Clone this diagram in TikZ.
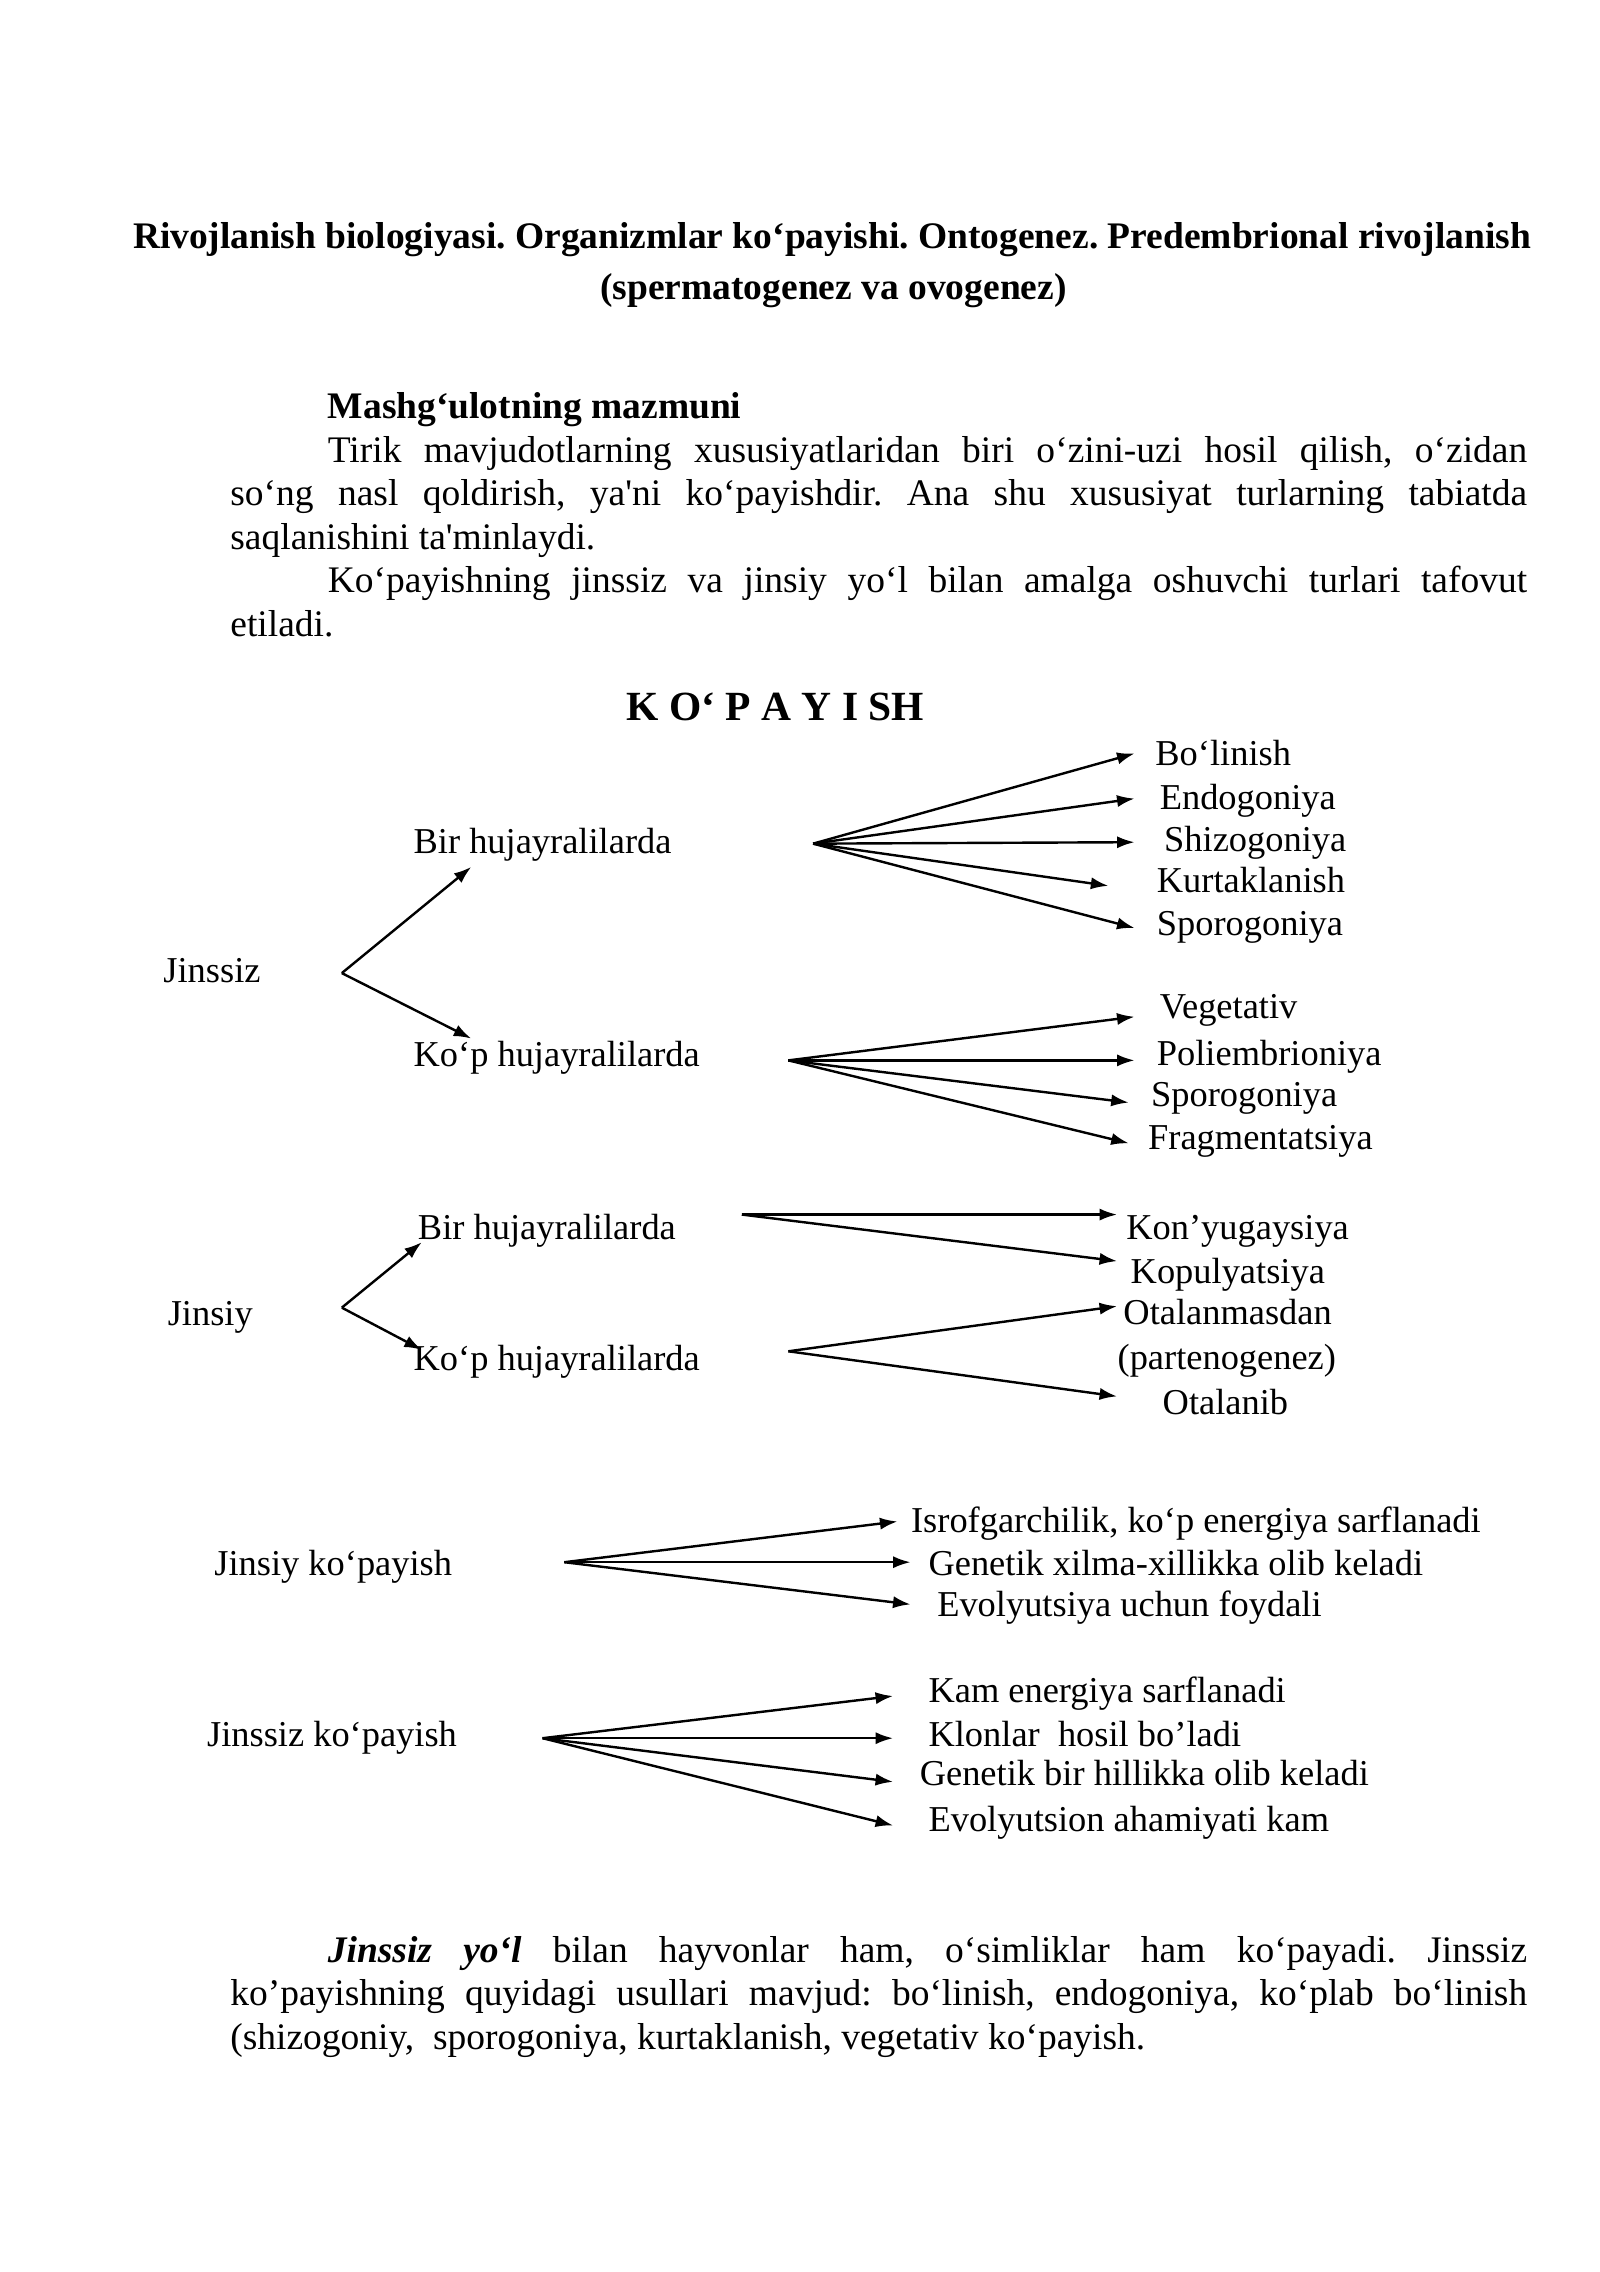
\documentclass[tikz,border=0pt]{standalone}
\usepackage{fontspec}
\setmainfont{Liberation Serif}
\usetikzlibrary{arrows.meta,calc}
\frenchspacing

\tikzset{
  lbl/.style={anchor=west,inner sep=0pt,text height=10pt,text depth=3pt,font=\fontsize{13.6}{16}\selectfont},
  arr/.style={line width=0.9pt,-{Latex[length=2.3mm,width=1.6mm]}},
  txt/.style={anchor=base west,inner sep=0pt,text width=170.2mm,align=justify,font=\fontsize{14}{16.24}\selectfont},
  ttl/.style={anchor=base,inner sep=0pt,font=\bfseries\fontsize{14}{16}\selectfont}
}

\begin{document}
\begin{tikzpicture}[x=0.19091mm,y=-0.19091mm]
\useasboundingbox (0,0) rectangle (1100,1562);
% heading
\node[ttl] (title) at (572,171) {Rivojlanish biologiyasi. Organizmlar ko‘payishi. Ontogenez. Predembrional rivojlanish};
\node[ttl] (subtitle) at (573,206) {(spermatogenez va ovogenez)};
% text above the scheme
\node[txt] (intro) at (158,288) {\hspace*{12.8mm}\textbf{Mashg‘ulotning mazmuni}\par
\hspace*{12.8mm}Tirik mavjudotlarning xususiyatlaridan biri o‘zini-uzi hosil qilish, o‘zidan\linebreak
so‘ng nasl qoldirish, ya\textquotesingle ni ko‘payishdir. Ana shu xususiyat turlarning tabiatda\linebreak
saqlanishini ta\textquotesingle minlaydi.\par
\hspace*{12.8mm}Ko‘payishning jinssiz va jinsiy yo‘l bilan amalga oshuvchi turlari tafovut\linebreak
etiladi.};
% scheme title
\node[anchor=base,inner sep=0pt,font=\bfseries\fontsize{15.5}{18}\selectfont] (kopayish) at (533,495) {K O‘ P A Y I SH};
% jinssiz branch
\node[lbl] (jinssiz) at (112,669) {Jinssiz};
\coordinate (j1) at (235,669);
\node[lbl] (bir1) at (284,580) {Bir hujayralilarda};
\node[lbl] (kop1) at (284,727) {Ko‘p hujayralilarda};
\draw[arr] (j1) -- ($(bir1.west)+(40,16)$);
\draw[arr] (j1) -- ($(kop1.west)+(40,-13)$);
% bir hujayralilarda
\coordinate (f1) at (559,580);
\node[lbl] (bol) at (794,520) {Bo‘linish};
\node[lbl] (endo) at (797,550) {Endogoniya};
\node[lbl] (shizo) at (800,579) {Shizogoniya};
\node[lbl] (kurt) at (795,607) {Kurtaklanish};
\node[lbl] (spor1) at (795,637) {Sporogoniya};
\foreach \n/\dx/\dy in {bol/-14/-2,endo/-17/-1,shizo/-20/0,kurt/-33/2,spor1/-15/1}
  \draw[arr] (f1) -- ($(\n.west)+(\dx,\dy)$);
% ko'p hujayralilarda
\coordinate (f2) at (542,729);
\node[lbl] (veget) at (797,694) {Vegetativ};
\node[lbl] (poli) at (795,726) {Poliembrioniya};
\node[lbl] (spor2) at (791,754) {Sporogoniya};
\node[lbl] (frag) at (789,784) {Fragmentatsiya};
\foreach \n/\dx/\dy in {veget/-17/5,poli/-15/3,spor2/-15/4,frag/-13/2}
  \draw[arr] (f2) -- ($(\n.west)+(\dx,\dy)$);
% jinsiy branch
\node[lbl] (jinsiy) at (115,905) {Jinsiy};
\coordinate (j2) at (235,899);
\node[lbl] (bir2) at (287,846) {Bir hujayralilarda};
\node[lbl] (kop2) at (284,936) {Ko‘p hujayralilarda};
\draw[arr] (j2) -- ($(bir2.west)+(3,8)$);
\draw[arr] (j2) -- ($(kop2.west)+(6,-8)$);
% jinsiy: bir hujayralilarda
\coordinate (f3) at (510,835);
\node[lbl] (kon) at (774,846) {Kon’yugaysiya};
\node[lbl] (kopul) at (777,876) {Kopulyatsiya};
\foreach \n/\dx/\dy in {kon/-6/-11,kopul/-9/-9}
  \draw[arr] (f3) -- ($(\n.west)+(\dx,\dy)$);
% jinsiy: ko'p hujayralilarda
\coordinate (f4) at (542,929);
\node[lbl] (otal) at (772,904) {Otalanmasdan};
\node[lbl] (parteno) at (768,935) {(partenogenez)};
\node[lbl] (otalanib) at (799,966) {Otalanib};
\foreach \n/\dx/\dy in {otal/-4/-6,otalanib/-31/-6}
  \draw[arr] (f4) -- ($(\n.west)+(\dx,\dy)$);
% jinsiy ko'payish
\node[lbl] (jk) at (147,1077) {Jinsiy ko‘payish};
\coordinate (f5) at (388,1074);
\node[lbl] (isrof) at (626,1047) {Isrofgarchilik, ko‘p energiya sarflanadi};
\node[lbl] (gen1) at (638,1077) {Genetik xilma-xillikka olib keladi};
\node[lbl] (evol1) at (644,1105) {Evolyutsiya uchun foydali};
\foreach \n/\dx/\dy in {isrof/-9/-1,gen1/-12/-3,evol1/-18/-2}
  \draw[arr] (f5) -- ($(\n.west)+(\dx,\dy)$);
% jinssiz ko'payish
\node[lbl] (jsk) at (142,1194) {Jinssiz ko‘payish};
\coordinate (f6) at (373,1195);
\node[lbl] (kam) at (638,1164) {Kam energiya sarflanadi};
\node[lbl] (klon) at (638,1194) {Klonlar\ \ hosil bo’ladi};
\node[lbl] (gen2) at (632,1221) {Genetik bir hillikka olib keladi};
\node[lbl] (evol2) at (638,1253) {Evolyutsion ahamiyati kam};
\foreach \n/\dx/\dy in {kam/-24/2,klon/-24/1,gen2/-18/4,evol2/-24/2}
  \draw[arr] (f6) -- ($(\n.west)+(\dx,\dy)$);
% text below the scheme
\node[txt] (outro) at (158,1349) {\hspace*{12.8mm}\textbf{\textit{Jinssiz yo‘l}} bilan hayvonlar ham, o‘simliklar ham ko‘payadi. Jinssiz\linebreak
ko’payishning quyidagi usullari mavjud: bo‘linish, endogoniya, ko‘plab bo‘linish\linebreak
(shizogoniy,\ \ sporogoniya, kurtaklanish, vegetativ ko‘payish.};
\end{tikzpicture}
\end{document}
